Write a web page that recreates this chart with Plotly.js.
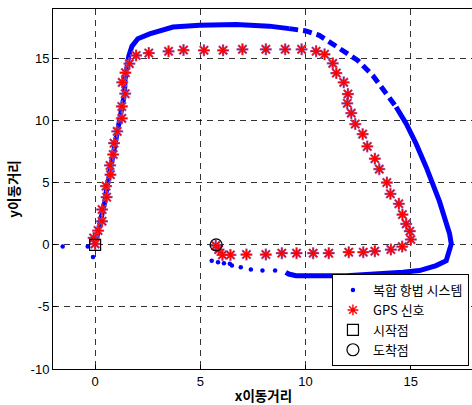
<!DOCTYPE html>
<html>
<head>
<meta charset="utf-8">
<script src="https://cdn.plot.ly/plotly-3.0.1.min.js"></script>
<style>
html,body{margin:0;padding:0;overflow:hidden;background:#fff;}
#chart{width:474px;height:405px;}
</style>
</head>
<body>
<div id="chart"></div>
<script>
// ---- Data ----
// Blue integrated navigation path: dense (solid-looking) section
const navSolidX1 = [0.0,0.15,0.3,0.45,0.55,0.7,0.85,1.0,1.15,1.3,1.4,1.42,1.5,1.6,1.75,2.03,2.59,3.2,3.7,4.97,6.7,8.27,9.22];
const navSolidY1 = [0.0,1.0,2.2,3.4,4.5,5.8,7.2,8.6,9.8,11.0,12.2,13.3,14.2,15.2,16.0,16.6,17.0,17.35,17.55,17.69,17.75,17.62,17.42];
// dashed-looking section (sparser samples)
const navDashX = [9.22,10.01,10.65,11.29,11.84,12.48,13.19,13.82,14.3];
const navDashY = [17.42,17.23,16.88,16.21,15.53,14.86,13.65,12.18,11.1];
// dense section down the right side and along the bottom
const navSolidX2 = [14.3,14.78,15.25,15.73,16.36,16.84,16.92,16.68,16.2,15.41,14.62,13.03,11.92,10.65,9.54,9.2,9.06];
const navSolidY2 = [11.1,9.76,8.15,6.26,3.5,0.89,0.08,-1.27,-1.67,-2.07,-2.21,-2.4,-2.48,-2.48,-2.48,-2.35,-2.21];
// isolated sparse samples
const navDotX = [8.55,7.95,7.4,6.92,6.5,6.4,6.12,5.84,5.54,-1.54,-0.35,-0.1];
const navDotY = [-2.07,-2.07,-1.99,-1.8,-1.67,-1.53,-1.48,-1.4,-1.27,-0.14,-0.14,-0.97];

// GPS signal
const gpsX = [0,-0.07,0.14,0.33,0.33,0.55,0.52,0.73,0.71,0.86,0.9,1.05,1.27,1.27,1.43,1.29,1.44,1.63,
  1.95,2.55,3.49,4.20,5.17,6.08,7.0,8.11,9.03,9.81,10.5,10.9,
  11.29,11.46,11.81,12.01,11.98,12.17,12.36,12.71,12.93,13.29,13.5,13.86,14.03,14.43,14.6,14.78,14.95,15.0,
  14.59,14.05,13.29,12.74,12.05,11.1,10.36,9.57,8.87,8.11,7.19,6.43,6.05,5.87,5.73];
const gpsY = [0.08,0.56,1.15,1.9,2.85,3.84,4.73,5.65,6.4,7.28,8.19,9.14,10.19,11.15,12.18,13.09,13.87,14.6,
  15.26,15.45,15.59,15.69,15.67,15.67,15.75,15.75,15.75,15.75,15.6,15.35,
  14.62,13.84,13.09,12.15,11.4,10.61,9.73,8.92,7.93,6.94,6.1,5.02,4.11,3.31,2.44,1.69,1.1,0.43,
  -0.14,-0.38,-0.51,-0.59,-0.59,-0.67,-0.67,-0.67,-0.67,-0.78,-0.78,-0.81,-0.81,-0.38,-0.06];

const startX = [0], startY = [0];
const endX = [5.75], endY = [0];

const legendNames = ['복합 항법 시스템', 'GPS 신호', '시작점', '도착점'];
const xTicks = [0, 5, 10, 15];
const yTicks = [-10, -5, 0, 5, 10, 15];

const BLUE = '#0000ff';
const RED = '#ff0000';

const traces = [
  {x: navSolidX1, y: navSolidY1, mode: 'lines', line: {color: BLUE, width: 5}, showlegend: false, hoverinfo: 'skip'},
  {x: navDashX, y: navDashY, mode: 'lines', line: {color: BLUE, width: 5, dash: '9px,5px'}, showlegend: false, hoverinfo: 'skip'},
  {x: navSolidX2, y: navSolidY2, mode: 'lines', line: {color: BLUE, width: 5}, showlegend: false, hoverinfo: 'skip'},
  {x: navDotX, y: navDotY, mode: 'markers', name: legendNames[0], marker: {color: BLUE, size: 4.5, symbol: 'circle'}},
  {x: gpsX, y: gpsY, mode: 'markers', showlegend: false, hoverinfo: 'skip',
   marker: {symbol: 'asterisk-open', size: 10, line: {color: 'rgba(60,0,0,0.3)', width: 2.2}}},
  {x: gpsX, y: gpsY, mode: 'markers', name: legendNames[1],
   marker: {symbol: 'asterisk-open', size: 9, color: RED, line: {color: RED, width: 1.4}}},
  {x: startX, y: startY, mode: 'markers', name: legendNames[2],
   marker: {symbol: 'square-open', size: 11, color: '#000', line: {color: '#000', width: 1.2}}},
  {x: endX, y: endY, mode: 'markers', name: legendNames[3],
   marker: {symbol: 'circle-open', size: 12, color: '#000', line: {color: '#000', width: 1.2}}}
];

const axisCommon = {
  showline: true, linecolor: '#000', linewidth: 1, mirror: true,
  ticks: 'inside', ticklen: 4, tickcolor: '#000',
  showgrid: true, gridcolor: 'rgba(0,0,0,0.8)', gridwidth: 1, griddash: '6px,5px',
  zeroline: false,
  tickfont: {family: 'Liberation Sans, Arial, sans-serif', size: 13, color: '#000'}
};

const layout = {
  width: 474, height: 405,
  margin: {l: 53, r: 0, t: 9, b: 36},
  paper_bgcolor: '#fff', plot_bgcolor: '#fff',
  xaxis: Object.assign({}, axisCommon, {
    range: [-2, 18], tickvals: xTicks, ticktext: xTicks.map(String),
    title: {text: 'x이동거리', standoff: 5, font: {family: 'Noto Sans CJK KR, sans-serif', size: 13.5, color: '#000', weight: 'bold'}}
  }),
  yaxis: Object.assign({}, axisCommon, {
    range: [-10, 19], tickvals: yTicks, ticktext: yTicks.map(String),
    title: {text: 'y이동거리', standoff: 7, font: {family: 'Noto Sans CJK KR, sans-serif', size: 13.5, color: '#000', weight: 'bold'}}
  }),
  legend: {
    x: 0.988, y: 0.008, xanchor: 'right', yanchor: 'bottom',
    bgcolor: '#fff', bordercolor: '#000', borderwidth: 1,
    font: {family: 'Noto Sans CJK KR, sans-serif', size: 13, color: '#000'},
    tracegroupgap: 0
  },
  showlegend: true
};

Plotly.newPlot('chart', traces, layout, {staticPlot: true, displayModeBar: false});
</script>
</body>
</html>
